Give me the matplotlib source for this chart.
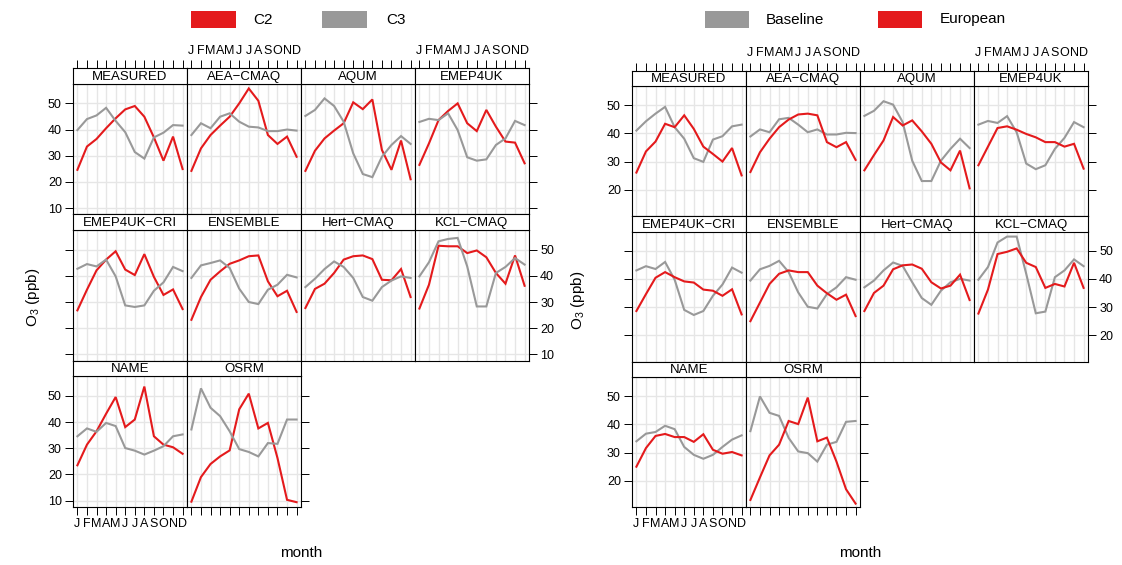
import numpy as np
import matplotlib
matplotlib.use('Agg')
import matplotlib.pyplot as plt
from matplotlib.patches import Rectangle

plt.rcParams['font.family'] = ['Liberation Sans', 'DejaVu Sans']
plt.rcParams['mathtext.fontset'] = 'custom'
plt.rcParams['mathtext.rm'] = 'Liberation Sans'
plt.rcParams['mathtext.it'] = 'Liberation Sans:italic'

# data
months = list(range(1, 13))
month_labels = ['J', 'F', 'M', 'A', 'M', 'J', 'J', 'A', 'S', 'O', 'N', 'D']
panels = ['MEASURED', 'AEA\u2212CMAQ', 'AQUM', 'EMEP4UK', 'EMEP4UK\u2212CRI',
          'ENSEMBLE', 'Hert\u2212CMAQ', 'KCL\u2212CMAQ', 'NAME', 'OSRM']

# left chart: C2 (red) and C3 (grey)
c2 = [
    [24.6, 33.5, 36.4, 40.5, 44.3, 47.7, 49.0, 44.9, 37.0, 28.1, 37.3, 24.9],
    [24.2, 32.8, 37.9, 41.5, 44.9, 50.0, 55.7, 51.0, 37.9, 34.5, 37.3, 29.6],
    [24.2, 31.9, 36.6, 39.6, 42.4, 50.4, 47.8, 51.5, 32.2, 24.6, 35.8, 21.0],
    [26.5, 34.7, 43.6, 47.1, 50.0, 42.4, 39.4, 47.5, 41.1, 35.4, 35.0, 27.1],
    [26.8, 34.7, 42.1, 46.2, 49.4, 42.4, 40.3, 48.3, 39.6, 32.7, 34.8, 27.3],
    [23.2, 31.9, 38.5, 41.7, 44.6, 45.9, 47.5, 47.8, 37.9, 32.2, 34.3, 26.2],
    [27.7, 35.0, 37.0, 41.1, 46.2, 47.5, 47.8, 46.4, 38.5, 38.3, 42.6, 31.9],
    [27.5, 36.6, 51.5, 51.3, 51.3, 48.7, 49.7, 47.1, 41.1, 37.0, 47.8, 36.2],
    [23.5, 31.4, 36.5, 43.2, 49.6, 38.1, 41.0, 53.6, 34.6, 31.4, 30.4, 27.9],
    [9.6, 19.0, 24.0, 26.9, 29.2, 44.9, 50.9, 37.6, 39.7, 26.3, 10.3, 9.4],
]
c3 = [
    [39.8, 44.0, 45.4, 48.3, 43.3, 39.0, 31.4, 28.9, 37.0, 38.8, 41.7, 41.5],
    [37.9, 42.4, 40.5, 44.9, 46.2, 43.0, 41.1, 40.8, 39.4, 39.4, 40.0, 39.6],
    [45.2, 47.5, 51.9, 49.0, 43.0, 30.9, 23.0, 21.8, 29.6, 34.1, 37.5, 34.5],
    [42.9, 44.1, 43.6, 46.2, 39.8, 29.4, 28.1, 28.6, 34.1, 36.6, 43.3, 41.7],
    [42.7, 44.5, 43.6, 46.2, 39.8, 28.7, 28.1, 28.7, 34.3, 37.5, 43.4, 41.8],
    [39.2, 44.0, 44.9, 45.9, 43.0, 35.1, 30.0, 29.2, 34.7, 36.6, 40.4, 39.4],
    [35.7, 38.9, 42.6, 45.5, 43.4, 39.2, 31.9, 30.5, 35.7, 38.2, 39.8, 39.2],
    [39.8, 45.2, 53.2, 54.1, 54.5, 43.6, 28.3, 28.3, 41.1, 43.4, 46.8, 44.3],
    [34.6, 37.6, 36.3, 39.7, 38.5, 30.1, 29.1, 27.6, 29.1, 30.8, 34.6, 35.3],
    [37.2, 52.9, 45.5, 42.3, 36.5, 29.7, 28.6, 26.9, 32.0, 31.7, 41.0, 41.0],
]

# right chart: Baseline (grey) and European (red)
baseline = [
    [41.0, 44.3, 47.0, 49.4, 42.2, 38.1, 31.2, 29.9, 37.8, 39.0, 42.5, 43.1],
    [38.9, 41.4, 40.4, 45.0, 45.5, 43.1, 40.4, 41.4, 39.6, 39.6, 40.2, 40.1],
    [46.2, 48.0, 51.4, 50.2, 44.0, 30.3, 23.1, 23.1, 30.3, 34.5, 38.1, 34.8],
    [43.1, 44.4, 43.7, 46.1, 40.4, 29.3, 27.3, 28.7, 34.5, 38.4, 44.0, 42.2],
    [43.0, 44.5, 43.5, 46.0, 39.7, 29.0, 27.2, 28.6, 34.0, 38.0, 44.0, 42.2],
    [39.4, 43.4, 44.6, 46.4, 42.4, 35.2, 30.1, 29.5, 34.6, 37.0, 40.6, 39.7],
    [37.0, 39.4, 43.0, 45.8, 44.6, 38.8, 33.2, 30.8, 35.8, 38.8, 40.0, 39.4],
    [39.7, 44.2, 52.9, 55.0, 55.0, 41.8, 27.8, 28.4, 40.6, 43.0, 46.9, 44.5],
    [34.0, 36.7, 37.3, 39.5, 38.3, 32.0, 29.2, 27.8, 29.2, 32.0, 34.6, 36.1],
    [37.6, 49.9, 44.1, 43.0, 35.2, 30.4, 29.8, 26.8, 32.8, 33.8, 40.9, 41.2],
]
european = [
    [26.1, 33.6, 37.1, 43.4, 42.2, 46.4, 41.6, 35.3, 32.7, 30.0, 34.8, 25.1],
    [26.3, 33.3, 38.1, 42.2, 44.9, 46.7, 47.0, 46.4, 36.9, 35.1, 36.9, 30.6],
    [26.9, 32.3, 37.5, 45.8, 42.8, 44.6, 40.7, 36.3, 29.7, 26.9, 33.9, 20.5],
    [28.7, 35.3, 41.9, 42.5, 41.3, 39.8, 38.6, 36.9, 36.9, 35.3, 36.3, 27.5],
    [28.6, 34.6, 40.4, 42.4, 40.6, 39.1, 38.7, 36.2, 35.8, 34.0, 36.3, 27.4],
    [25.0, 31.6, 38.2, 41.8, 43.0, 42.4, 42.4, 37.6, 34.9, 32.6, 34.4, 26.8],
    [28.6, 35.0, 37.6, 43.4, 44.8, 45.1, 43.6, 38.8, 36.6, 37.6, 41.5, 32.5],
    [27.7, 36.2, 48.8, 49.6, 50.8, 45.7, 44.2, 36.8, 38.2, 37.3, 45.7, 36.8],
    [25.0, 31.6, 35.9, 36.6, 35.5, 35.5, 33.8, 36.5, 31.0, 29.6, 30.2, 29.0],
    [13.2, 21.2, 29.0, 32.8, 41.2, 40.1, 49.5, 34.0, 35.3, 26.8, 17.0, 11.9],
]

RED = '#E41A1C'
GREY = '#999999'
W, H = 1122, 565

fig = plt.figure(figsize=(W / 100, H / 100), dpi=100)


def px_axes(x, y, w, h):
    # pixel box (top-left origin) -> figure axes
    return fig.add_axes([x / W, 1 - (y + h) / H, w / W, h / H])


def draw_chart(x0, top, step, strip_h, ylim, yticks, series, colors):
    pw = 114
    n_rows = 3
    for i, name in enumerate(panels):
        row, col = i // 4, i % 4
        last_col = 3 if row < 2 else 1
        x = x0 + col * pw
        st = top + row * step
        ph = step - strip_h

        ax = px_axes(x, st + strip_h, pw, ph)
        ax.set_xlim(0.54, 12.46)
        ax.set_ylim(*ylim)
        ax.set_xticks(months)
        ax.set_yticks(yticks)
        ax.grid(True, color='#e6e6e6', lw=1)
        ax.set_axisbelow(True)
        for s, c in zip(series, colors):
            ax.plot(months, s[i], color=c, lw=1.5, solid_joinstyle='miter')
        for sp in ax.spines.values():
            sp.set_linewidth(0.8)
        ax.tick_params(direction='out', length=6, width=0.7, labelsize=9, pad=2,
                       left=(col == 0), labelleft=(col == 0 and row != 1),
                       right=(col == last_col), labelright=(col == last_col and row == 1),
                       bottom=(row == n_rows - 1), labelbottom=(row == n_rows - 1 and col == 0),
                       top=False, labeltop=False)
        ax.set_xticklabels(month_labels)

        sa = px_axes(x, st, pw, strip_h)
        sa.set_xlim(0.54, 12.46)
        sa.set_yticks([])
        sa.set_xticks(months)
        sa.set_xticklabels(month_labels)
        sa.set_facecolor('white')
        for sp in sa.spines.values():
            sp.set_linewidth(0.8)
        sa.tick_params(direction='out', length=6, width=0.7, labelsize=9, pad=2,
                       bottom=False, labelbottom=False,
                       top=(row == 0), labeltop=(row == 0 and col in (1, 3)))
        sa.text(0.5, 0.45, name, transform=sa.transAxes, ha='center', va='center',
                fontsize=9.5)


# left chart
draw_chart(73, 68, 146.3, 15.5, (7.6, 57.6), [10, 20, 30, 40, 50], [c2, c3], [RED, GREY])
# right chart
draw_chart(632, 70.5, 145.5, 15.5, (10.7, 56.8), [20, 30, 40, 50], [baseline, european], [GREY, RED])

# axis titles
fig.text(33 / W, 1 - 297 / H, 'O$_3$ (ppb)', rotation=90, ha='center', va='center', fontsize=11)
fig.text(578 / W, 1 - 300 / H, 'O$_3$ (ppb)', rotation=90, ha='center', va='center', fontsize=11)
fig.text(301 / W, 1 - 553 / H, 'month', ha='center', va='center', fontsize=11)
fig.text(860 / W, 1 - 553 / H, 'month', ha='center', va='center', fontsize=11)

# legends
def legend_key(x, w, color, label, tx):
    fig.add_artist(Rectangle((x / W, 1 - 28 / H), w / W, 17 / H, transform=fig.transFigure,
                             facecolor=color, edgecolor='none'))
    fig.text(tx / W, 1 - 19.5 / H, label, ha='left', va='center', fontsize=11)

legend_key(191, 45, RED, 'C2', 253)
legend_key(322, 45, GREY, 'C3', 386)
legend_key(705, 44, GREY, 'Baseline', 766)
legend_key(878, 44, RED, 'European', 940)

fig.savefig('out.png', dpi=100)
